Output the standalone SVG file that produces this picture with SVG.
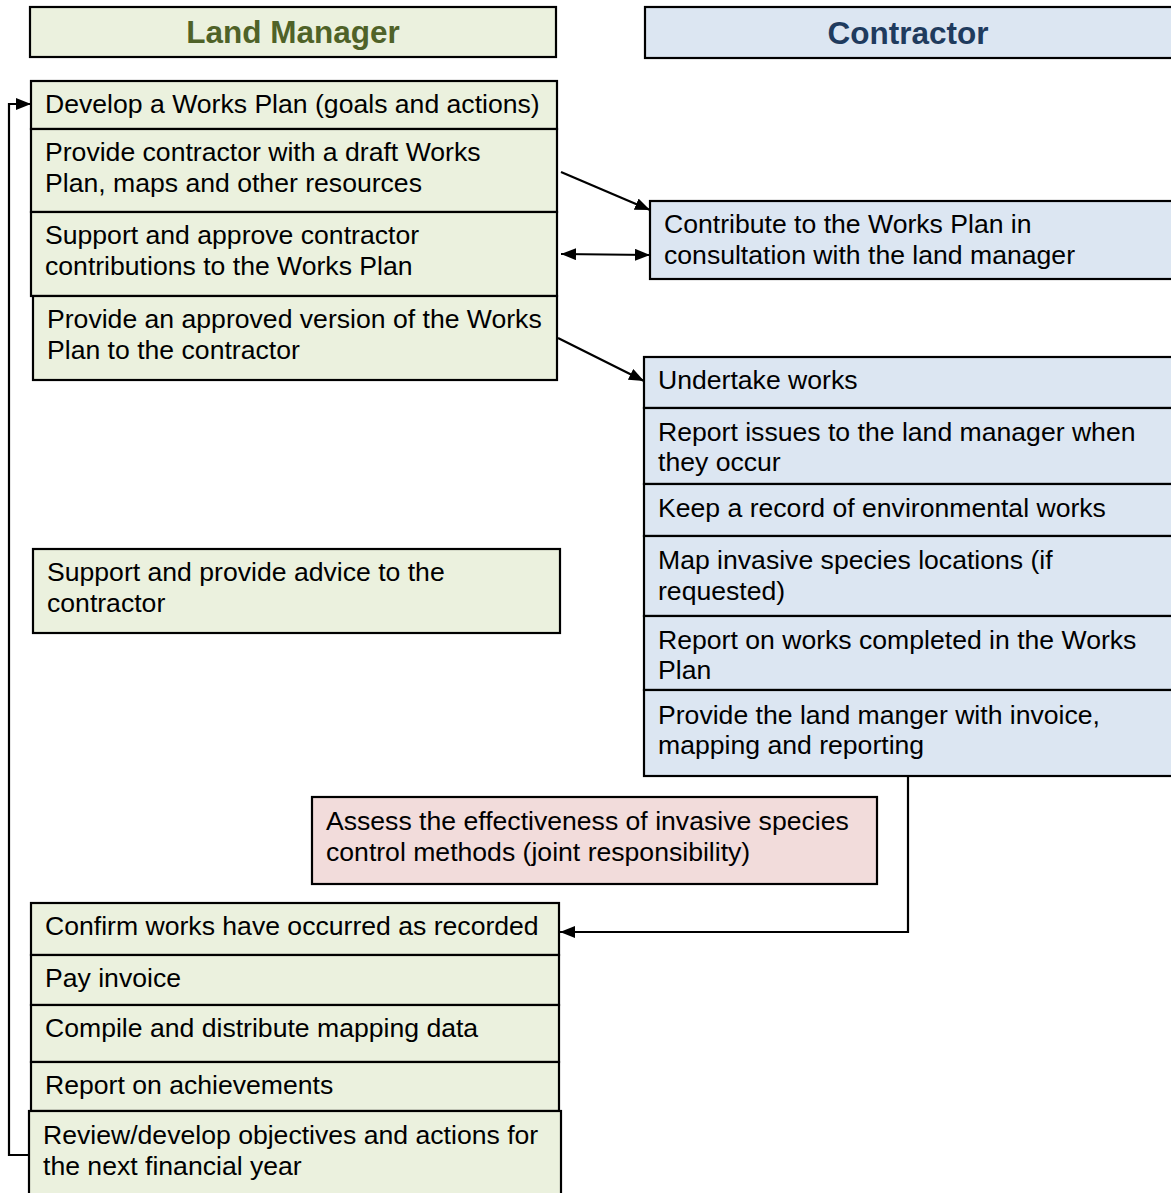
<svg xmlns="http://www.w3.org/2000/svg" width="1171" height="1193" viewBox="0 0 1171 1193">
<style>
text{font-family:"Liberation Sans",Arial,sans-serif;font-size:26.6px;fill:#000}
.lm{fill:#EBF1DE;stroke:#000;stroke-width:2.2}
.ct{fill:#DCE6F2;stroke:#000;stroke-width:2.2}
.pk{fill:#F2DCDB;stroke:#000;stroke-width:2.2}
.hd{font-size:31.5px;font-weight:bold}
.cn{fill:none;stroke:#000;stroke-width:2.2}
</style>
<defs>
<marker id="ah" viewBox="0 0 15 12" refX="15" refY="6" markerWidth="15" markerHeight="12" orient="auto-start-reverse" markerUnits="userSpaceOnUse"><path d="M0,0L15,6L0,12z" fill="#000"/></marker>
</defs>
<rect width="1171" height="1193" fill="#fff"/>
<g id="hdr-land"><rect class="lm" x="30" y="7" width="526" height="50"/><text class="hd" x="293" y="43" text-anchor="middle" style="fill:#4F6228">Land Manager</text></g>
<g id="hdr-contractor"><rect class="ct" x="645" y="7" width="530" height="51"/><text class="hd" x="908" y="44" text-anchor="middle" style="fill:#1F3B5E">Contractor</text></g>

<g id="lm1"><rect class="lm" x="31" y="81" width="526" height="48"/><text x="45" y="113">Develop a Works Plan (goals and actions)</text></g>
<g id="lm2"><rect class="lm" x="31" y="129" width="526" height="83"/><text x="45" y="161">Provide contractor with a draft Works</text><text x="45" y="192">Plan, maps and other resources</text></g>
<g id="lm3"><rect class="lm" x="31" y="212" width="526" height="84"/><text x="45" y="244">Support and approve contractor</text><text x="45" y="275">contributions to the Works Plan</text></g>
<g id="lm4"><rect class="lm" x="33" y="296" width="524" height="84"/><text x="47" y="328">Provide an approved version of the Works</text><text x="47" y="359">Plan to the contractor</text></g>

<g id="ct0"><rect class="ct" x="650" y="201" width="525" height="78"/><text x="664" y="233">Contribute to the Works Plan in</text><text x="664" y="264">consultation with the land manager</text></g>

<g id="ct1"><rect class="ct" x="644" y="357" width="531" height="51"/><text x="658" y="389">Undertake works</text></g>
<g id="ct2"><rect class="ct" x="644" y="408" width="531" height="76"/><text x="658" y="441">Report issues to the land manager when</text><text x="658" y="471">they occur</text></g>
<g id="ct3"><rect class="ct" x="644" y="484" width="531" height="52"/><text x="658" y="517">Keep a record of environmental works</text></g>
<g id="ct4"><rect class="ct" x="644" y="536" width="531" height="80"/><text x="658" y="569">Map invasive species locations (if</text><text x="658" y="600">requested)</text></g>
<g id="ct5"><rect class="ct" x="644" y="616" width="531" height="74"/><text x="658" y="649">Report on works completed in the Works</text><text x="658" y="679">Plan</text></g>
<g id="ct6"><rect class="ct" x="644" y="690" width="531" height="86"/><text x="658" y="724">Provide the land manger with invoice,</text><text x="658" y="754">mapping and reporting</text></g>

<g id="lm-advice"><rect class="lm" x="33" y="549" width="527" height="84"/><text x="47" y="581">Support and provide advice to the</text><text x="47" y="612">contractor</text></g>

<g id="joint"><rect class="pk" x="312" y="797" width="565" height="87"/><text x="326" y="830">Assess the effectiveness of invasive species</text><text x="326" y="861">control methods (joint responsibility)</text></g>

<g id="lm5"><rect class="lm" x="31" y="903" width="528" height="52"/><text x="45" y="935">Confirm works have occurred as recorded</text></g>
<g id="lm6"><rect class="lm" x="31" y="955" width="528" height="50"/><text x="45" y="987">Pay invoice</text></g>
<g id="lm7"><rect class="lm" x="31" y="1005" width="528" height="57"/><text x="45" y="1037">Compile and distribute mapping data</text></g>
<g id="lm8"><rect class="lm" x="31" y="1062" width="528" height="49"/><text x="45" y="1094">Report on achievements</text></g>
<g id="lm9"><rect class="lm" x="29" y="1111" width="532" height="90"/><text x="43" y="1144">Review/develop objectives and actions for</text><text x="43" y="1175">the next financial year</text></g>

<g id="connectors">
<line class="cn" x1="561" y1="172" x2="650" y2="210" marker-end="url(#ah)"/>
<line class="cn" x1="561" y1="254" x2="650" y2="255" marker-start="url(#ah)" marker-end="url(#ah)"/>
<line class="cn" x1="558" y1="338" x2="644" y2="381" marker-end="url(#ah)"/>
<polyline class="cn" points="908,776 908,932 560,932" marker-end="url(#ah)"/>
<polyline class="cn" points="29,1155 9,1155 9,104 31,104" marker-end="url(#ah)"/>
</g>
</svg>
